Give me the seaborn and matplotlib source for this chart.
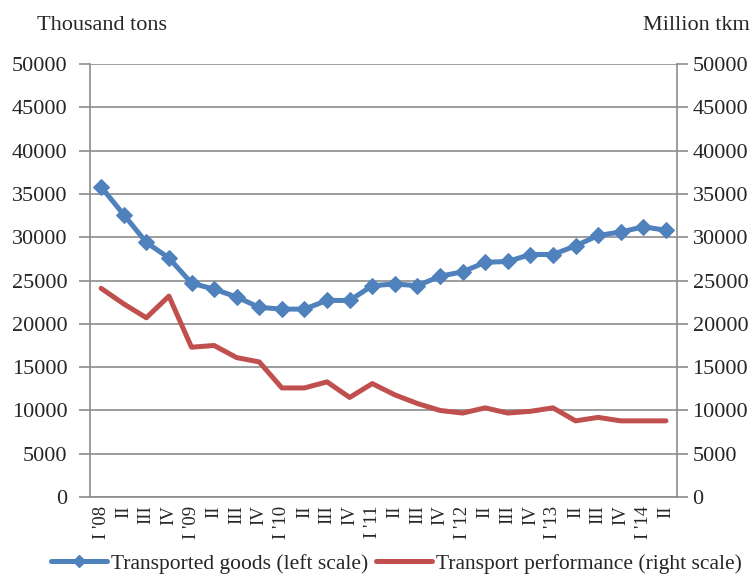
import matplotlib
matplotlib.use("Agg")
import matplotlib.pyplot as plt
import numpy as np
import pandas as pd
import seaborn as sns
from matplotlib.lines import Line2D

quarters = ["I '08", "II", "III", "IV", "I '09", "II", "III", "IV", "I '10", "II", "III", "IV",
            "I '11", "II", "III", "IV", "I '12", "II", "III", "IV", "I '13", "II", "III", "IV",
            "I '14", "II"]
goods = [35800, 32600, 29400, 27600, 24700, 24000, 23100, 21900, 21700, 21700, 22700, 22700,
         24400, 24600, 24400, 25500, 26000, 27100, 27200, 28000, 28000, 29000, 30200, 30600,
         31200, 30800]
performance = [24100, 22300, 20700, 23200, 17300, 17500, 16100, 15600, 12600, 12600, 13300, 11500,
               13100, 11800, 10800, 10000, 9700, 10300, 9700, 9900, 10300, 8800, 9200, 8800,
               8800, 8800]

sns.set_theme(style="white")
plt.rcParams["font.family"] = ["Liberation Serif", "DejaVu Serif"]

df = pd.DataFrame({"pos": np.arange(len(quarters)), "goods": goods, "perf": performance})

blue, red, grid_c = "#4F81BD", "#C0504D", "#8c8c8c"
yticks = list(range(0, 50001, 5000))

fig = plt.figure(figsize=(7.55, 5.76), dpi=100)
ax = fig.add_axes([0.119, 0.137, 0.778, 0.752])
ax2 = ax.twinx()

sns.lineplot(data=df, x="pos", y="goods", ax=ax, color=blue, linewidth=3.6,
             marker="D", markersize=8, markeredgecolor=blue, zorder=3)
sns.lineplot(data=df, x="pos", y="perf", ax=ax2, color=red, linewidth=3.6, zorder=3)

for a in (ax, ax2):
    a.set_ylim(0, 50000)
    a.set_yticks(yticks)
    a.set_yticklabels([str(v) for v in yticks])
    a.set_xlim(-0.5, len(quarters) - 0.5)
    a.set_xlabel("")
    a.set_ylabel("")
    a.tick_params(axis="y", labelsize=16, length=8, width=1.2, color=grid_c, direction="out")
    for s in a.spines.values():
        s.set_visible(False)

ax.yaxis.grid(True, color=grid_c, linewidth=1.2)
ax.set_axisbelow(True)
for a, side in ((ax, "left"), (ax, "bottom"), (ax2, "right")):
    a.spines[side].set_visible(True)
    a.spines[side].set_color(grid_c)
    a.spines[side].set_linewidth(1.2)
ax.tick_params(axis="y", pad=8)
ax2.tick_params(axis="y", pad=3)

ax.set_xticks(np.arange(len(quarters)))
ax.set_xticklabels(quarters, rotation=90, fontsize=13.5)
ax.set_xticks(np.arange(-0.5, len(quarters), 1), minor=True)
ax.tick_params(axis="x", which="major", length=0, pad=6)
ax.tick_params(axis="x", which="minor", length=5, width=1.2, color=grid_c, direction="out")

fig.text(0.049, 0.955, "Thousand tons", fontsize=16, ha="left", va="center")
fig.text(0.993, 0.955, "Million tkm", fontsize=16, ha="right", va="center")

handles = [Line2D([], [], color=blue, linewidth=3.6, marker="D", markersize=6),
           Line2D([], [], color=red, linewidth=3.6)]
fig.legend(handles, ["Transported goods (left scale)", "Transport performance (right scale)"],
           loc="lower center", bbox_to_anchor=(0.525, -0.03), ncol=2, frameon=False,
           fontsize=15.5, handlelength=2.6, columnspacing=0.4, handletextpad=0.15)

fig.savefig("out.png", dpi=100)
